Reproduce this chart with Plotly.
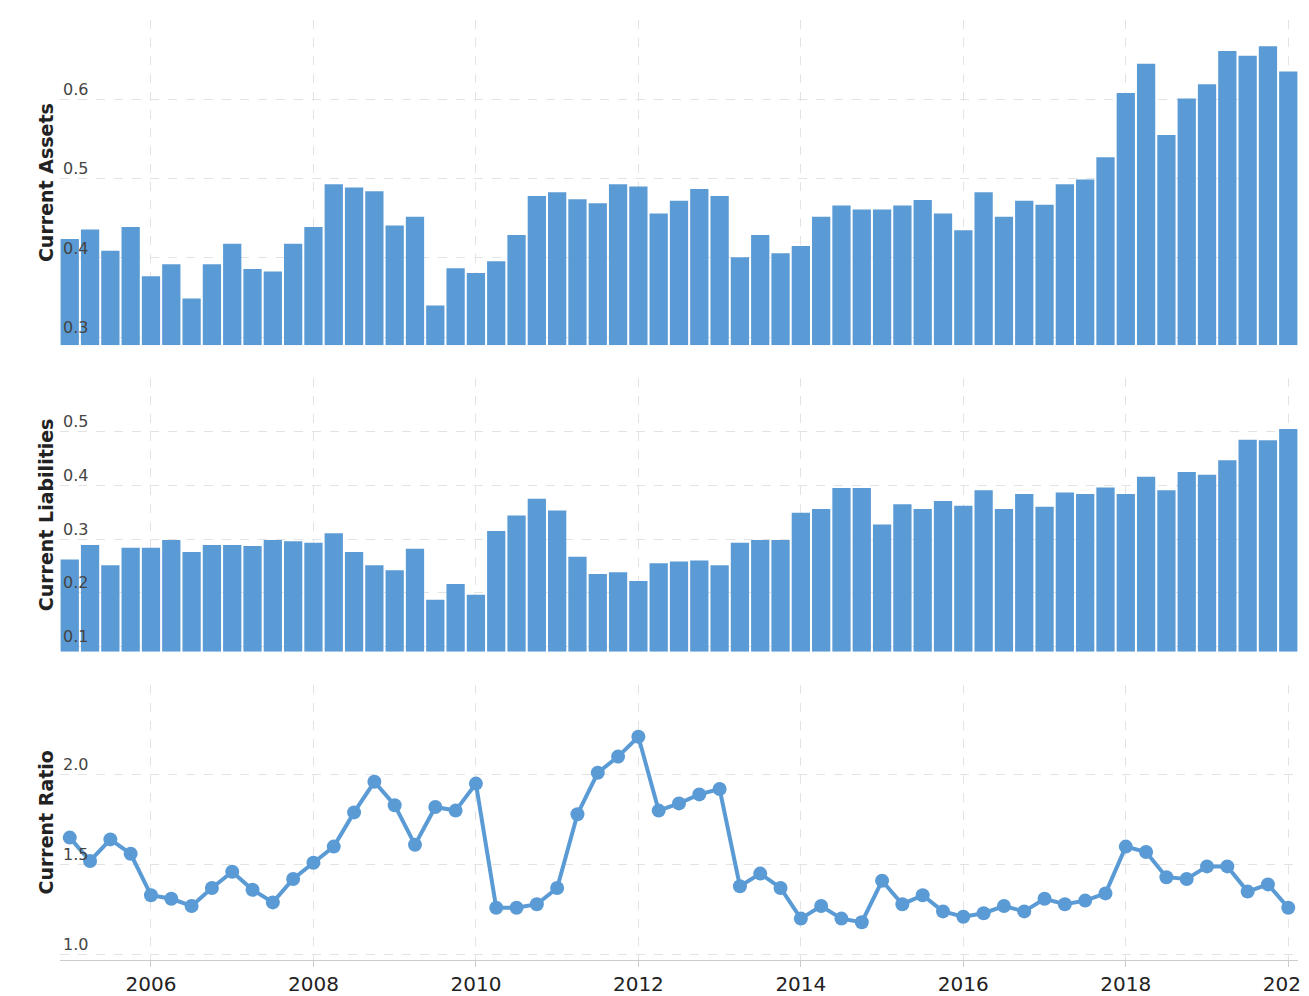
import plotly.graph_objects as go
from plotly.subplots import make_subplots

# quarters 2005 Q1 .. 2020 Q1
quarters = [2005 + 0.25 * i for i in range(61)]

current_assets = [0.424, 0.436, 0.409, 0.439, 0.377, 0.392, 0.349, 0.392, 0.418, 0.386,
                  0.383, 0.418, 0.439, 0.493, 0.489, 0.484, 0.441, 0.452, 0.340, 0.387,
                  0.381, 0.396, 0.429, 0.478, 0.483, 0.474, 0.469, 0.493, 0.490, 0.456,
                  0.472, 0.487, 0.478, 0.401, 0.429, 0.406, 0.415, 0.452, 0.466, 0.461,
                  0.461, 0.466, 0.473, 0.456, 0.435, 0.483, 0.452, 0.472, 0.467, 0.493,
                  0.499, 0.527, 0.608, 0.645, 0.555, 0.601, 0.619, 0.661, 0.655, 0.667,
                  0.635]

current_liabilities = [0.262, 0.289, 0.251, 0.284, 0.284, 0.298, 0.276, 0.289, 0.289, 0.287,
                       0.298, 0.296, 0.293, 0.311, 0.276, 0.251, 0.242, 0.282, 0.187, 0.216,
                       0.196, 0.315, 0.344, 0.375, 0.353, 0.267, 0.235, 0.238, 0.222, 0.255,
                       0.258, 0.260, 0.251, 0.293, 0.298, 0.298, 0.349, 0.356, 0.395, 0.395,
                       0.327, 0.365, 0.356, 0.371, 0.362, 0.391, 0.356, 0.384, 0.360, 0.387,
                       0.384, 0.396, 0.384, 0.416, 0.391, 0.425, 0.420, 0.447, 0.485, 0.484,
                       0.505]

current_ratio = [1.65, 1.52, 1.64, 1.56, 1.33, 1.31, 1.27, 1.37, 1.46, 1.36,
                 1.29, 1.42, 1.51, 1.60, 1.79, 1.96, 1.83, 1.61, 1.82, 1.80,
                 1.95, 1.26, 1.26, 1.28, 1.37, 1.78, 2.01, 2.10, 2.21, 1.80,
                 1.84, 1.89, 1.92, 1.38, 1.45, 1.37, 1.20, 1.27, 1.20, 1.18,
                 1.41, 1.28, 1.33, 1.24, 1.21, 1.23, 1.27, 1.24, 1.31, 1.28,
                 1.30, 1.34, 1.60, 1.57, 1.43, 1.42, 1.49, 1.49, 1.35, 1.39,
                 1.26]

year_ticks = [2006, 2008, 2010, 2012, 2014, 2016, 2018, 2020]

blue = "#5b9bd5"
grid = "#e3e3e3"

fig = make_subplots(rows=3, cols=1, shared_xaxes=True, vertical_spacing=0.03)
fig.add_trace(go.Bar(x=quarters, y=[v - 0.29 for v in current_assets], base=0.29,
                     marker_color=blue, marker_line_width=0), row=1, col=1)
fig.add_trace(go.Bar(x=quarters, y=[v - 0.09 for v in current_liabilities], base=0.09,
                     marker_color=blue, marker_line_width=0), row=2, col=1)
fig.add_trace(go.Scatter(x=quarters, y=current_ratio, mode="lines+markers",
                         line=dict(color=blue, width=4), marker=dict(color=blue, size=14)),
              row=3, col=1)

fig.update_layout(
    width=1309, height=996, showlegend=False, bargap=0.1,
    plot_bgcolor="white", paper_bgcolor="white",
    margin=dict(l=52, r=19, t=12, b=44),
    font=dict(family="DejaVu Sans", color="#222"),
    yaxis=dict(domain=[0.654, 1.0]),
    yaxis2=dict(domain=[0.328, 0.619]),
    yaxis3=dict(domain=[0.0, 0.293]),
)
fig.update_xaxes(range=[2004.88, 2020.12], tickvals=year_ticks,
                 ticktext=[str(y) for y in year_ticks], automargin=False,
                 showgrid=True, gridcolor=grid, griddash="dash", zeroline=False,
                 tickfont=dict(size=20))
fig.update_xaxes(showticklabels=False, row=1, col=1)
fig.update_xaxes(showticklabels=False, row=2, col=1)
fig.update_xaxes(showline=True, linecolor="#ccc", ticks="outside", ticklen=6,
                 tickcolor="#ccc", row=3, col=1)

ykw = dict(showgrid=True, gridcolor=grid, griddash="dash", zeroline=False,
           automargin=False,
           ticklabelposition="inside", ticklabelshift=-10, tickfont=dict(size=16),
           title_font=dict(size=19, family="DejaVu Sans"), title_standoff=4)
fig.update_yaxes(range=[0.29, 0.7], tickvals=[0.3, 0.4, 0.5, 0.6],
                 title_text="<b>Current Assets</b>", row=1, col=1, **ykw)
fig.update_yaxes(range=[0.09, 0.6], tickvals=[0.1, 0.2, 0.3, 0.4, 0.5],
                 title_text="<b>Current Liabilities</b>", row=2, col=1, **ykw)
fig.update_yaxes(range=[0.97, 2.5], tickvals=[1.0, 1.5, 2.0], tickformat=".1f",
                 title_text="<b>Current Ratio</b>", row=3, col=1, **ykw)

fig.write_html("out.html")
